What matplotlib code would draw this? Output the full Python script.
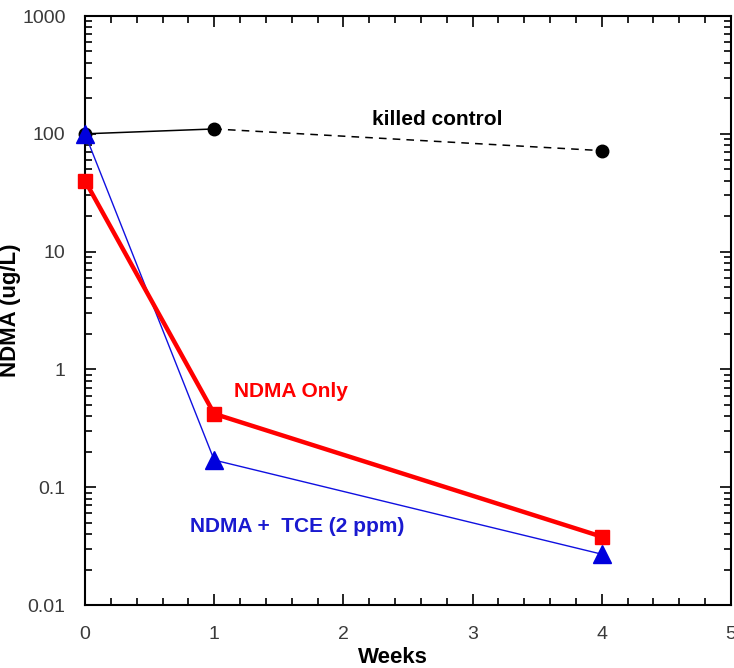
import matplotlib
matplotlib.use('Agg')
import matplotlib.pyplot as plt
from matplotlib.ticker import LogLocator, MultipleLocator, FixedLocator, NullFormatter

plt.rcParams['font.family'] = ['Liberation Sans', 'DejaVu Sans']

#----------------------------------------------------------
# DATA
#----------------------------------------------------------
weeks = [0, 1, 4]
killed_control = [100, 110, 72]
ndma_only = [40, 0.42, 0.038]
ndma_tce = [100, 0.17, 0.027]

y_ticks = [0.01, 0.1, 1, 10, 100, 1000]
y_ticklabels = ['0.01', '0.1', '1', '10', '100', '1000']
x_ticks = [0, 1, 2, 3, 4, 5]

#----------------------------------------------------------
# FIGURE
#----------------------------------------------------------
fig = plt.figure(figsize=(7.34, 6.68), dpi=100)
ax = fig.add_axes([0.1158, 0.0943, 0.8801, 0.8817])

# killed control: solid first leg, dashed second leg
ax.plot(weeks[:2], killed_control[:2], '-', color='black', lw=1.1, zorder=2)
ax.plot(weeks[1:], killed_control[1:], color='black', lw=1.1, dashes=(5, 4), zorder=2)
ax.plot(weeks, killed_control, 'o', color='black', ms=9, zorder=3, clip_on=False)

ax.plot(weeks, ndma_tce, '-', color='#1010e0', lw=1.0, zorder=3)
ax.plot(weeks, ndma_tce, '^', color='#0000dd', ms=13, zorder=4, clip_on=False)
ax.plot(weeks, ndma_only, '-s', color='#ff0000', lw=3.2, ms=10, zorder=5, clip_on=False)

ax.set_yscale('log')
ax.set_xlim(0, 5)
ax.set_ylim(0.01, 1000)

ax.yaxis.set_major_locator(FixedLocator(y_ticks))
ax.set_yticklabels(y_ticklabels)
ax.yaxis.set_minor_locator(LogLocator(base=10, subs=range(2, 10), numticks=20))
ax.yaxis.set_minor_formatter(NullFormatter())
ax.xaxis.set_major_locator(FixedLocator(x_ticks))
ax.xaxis.set_minor_locator(MultipleLocator(0.2))

ax.tick_params(which='both', direction='in', top=True, right=True,
               colors='black', labelcolor='#3a3a3a', labelsize=14, width=1.2)
ax.tick_params(which='major', length=8)
ax.tick_params(which='minor', length=5)
ax.tick_params(axis='y', which='major', pad=14)
ax.tick_params(axis='x', which='major', pad=15)
for s in ax.spines.values():
    s.set_linewidth(1.5)

ax.set_xlabel('Weeks', fontsize=16, fontweight='bold')
ax.xaxis.set_label_coords(0.477, -0.072)
ax.set_ylabel('NDMA (ug/L)', fontsize=16, fontweight='bold')
ax.yaxis.set_label_coords(-0.099, 0.5)

ax.text(2.73, 132, 'killed control', fontsize=15, fontweight='bold',
        color='black', ha='center', va='center')
ax.text(1.15, 0.65, 'NDMA Only', fontsize=15, fontweight='bold',
        color='#ff0000', ha='left', va='center')
ax.text(0.81, 0.046, 'NDMA +  TCE (2 ppm)', fontsize=15, fontweight='bold',
        color='#1a1ad0', ha='left', va='center')

fig.savefig('out.png', dpi=100)
